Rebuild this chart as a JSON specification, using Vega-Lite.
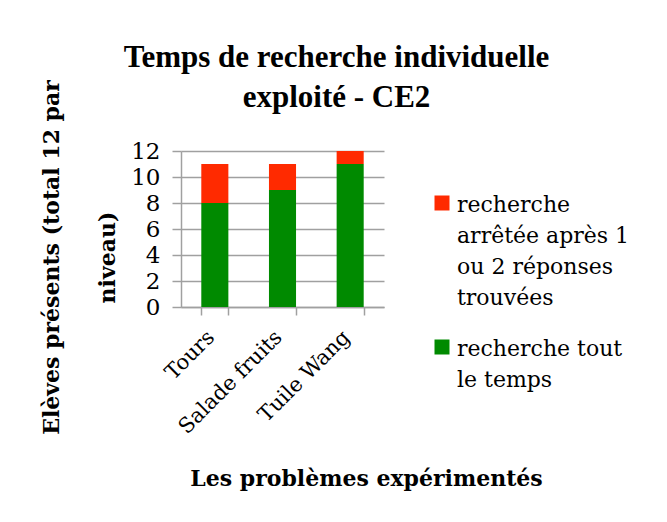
{
  "$schema": "https://vega.github.io/schema/vega-lite/v6.json",
  "width": 203,
  "height": 156,
  "autosize": {"type": "none"},
  "padding": {"left": 181, "top": 151, "right": 283, "bottom": 215},
  "background": "white",
  "title": {
    "text": ["Temps de recherche individuelle", "exploité - CE2"],
    "anchor": "middle",
    "frame": "group",
    "dx": 54,
    "dy": 74,
    "offset": 40,
    "font": "Liberation Serif",
    "fontSize": 31,
    "fontWeight": "bold",
    "lineHeight": 40,
    "color": "black"
  },
  "data": {
    "values": [
      {"probleme": "Tours", "type": "recherche tout le temps", "ordre": 1, "eleves": 8},
      {"probleme": "Tours", "type": "recherche arrêtée après 1 ou 2 réponses trouvées", "ordre": 2, "eleves": 3},
      {"probleme": "Salade fruits", "type": "recherche tout le temps", "ordre": 1, "eleves": 9},
      {"probleme": "Salade fruits", "type": "recherche arrêtée après 1 ou 2 réponses trouvées", "ordre": 2, "eleves": 2},
      {"probleme": "Tuile Wang", "type": "recherche tout le temps", "ordre": 1, "eleves": 11},
      {"probleme": "Tuile Wang", "type": "recherche arrêtée après 1 ou 2 réponses trouvées", "ordre": 2, "eleves": 1}
    ]
  },
  "mark": {"type": "bar"},
  "encoding": {
    "x": {
      "field": "probleme",
      "type": "nominal",
      "sort": ["Tours", "Salade fruits", "Tuile Wang"],
      "scale": {"paddingInner": 0.6, "paddingOuter": 0.3},
      "axis": {
        "title": "Les problèmes expérimentés",
        "titleFont": "DejaVu Serif",
        "titleFontSize": 22,
        "titleFontWeight": "bold",
        "titleColor": "black",
        "titleX": 185,
        "titleY": 171,
        "titleAlign": "center",
        "titleBaseline": "middle",
        "titleAngle": 0,
        "labelAngle": -45,
        "labelAlign": "right",
        "labelBaseline": "middle",
        "labelFont": "DejaVu Serif",
        "labelFontSize": 21,
        "labelColor": "black",
        "labelPadding": 19,
        "labelOffset": -4,
        "tickBand": "extent",
        "tickSize": 8,
        "tickColor": "#a0a0a0",
        "tickWidth": 1.5,
        "domainColor": "#a0a0a0",
        "domainWidth": 1.5,
        "grid": false
      }
    },
    "y": {
      "field": "eleves",
      "type": "quantitative",
      "stack": "zero",
      "scale": {"domain": [0, 12], "nice": false},
      "axis": {
        "title": ["Elèves présents (total 12 par", "niveau)"],
        "titleFont": "DejaVu Serif",
        "titleFontSize": 22,
        "titleFontWeight": "bold",
        "titleColor": "black",
        "titleAngle": -90,
        "titleX": -130,
        "titleY": 106,
        "titleAlign": "center",
        "titleBaseline": "middle",
        "titleLineHeight": 56,
        "values": [0, 2, 4, 6, 8, 10, 12],
        "labelFont": "DejaVu Serif",
        "labelFontSize": 23,
        "labelColor": "black",
        "labelPadding": 12,
        "tickSize": 9,
        "tickColor": "#a0a0a0",
        "tickWidth": 1.5,
        "domainColor": "#a0a0a0",
        "domainWidth": 1.5,
        "grid": true,
        "gridColor": "#a0a0a0",
        "gridWidth": 1.5
      }
    },
    "color": {
      "field": "type",
      "type": "nominal",
      "scale": {
        "domain": ["recherche arrêtée après 1 ou 2 réponses trouvées", "recherche tout le temps"],
        "range": ["#ff2a00", "#008a00"]
      },
      "legend": {
        "title": null,
        "orient": "none",
        "legendX": 250,
        "legendY": 41,
        "padding": 0,
        "symbolType": "square",
        "symbolSize": 225,
        "symbolStrokeWidth": 0,
        "symbolOpacity": 1,
        "labelFont": "DejaVu Serif",
        "labelFontSize": 22,
        "labelColor": "black",
        "labelOffset": 4,
        "labelLimit": 300,
        "labelBaseline": "top",
        "rowPadding": 27,
        "labelExpr": "datum.label == 'recherche tout le temps' ? ['recherche tout', 'le temps'] : ['recherche', 'arrêtée après 1', 'ou 2 réponses', 'trouvées']",
        "encoding": {
          "labels": {"dy": {"value": -8}}
        }
      }
    },
    "order": {"field": "ordre", "type": "quantitative"}
  },
  "config": {
    "view": {"stroke": null},
    "style": {"guide-label": {"lineHeight": 31}}
  }
}
